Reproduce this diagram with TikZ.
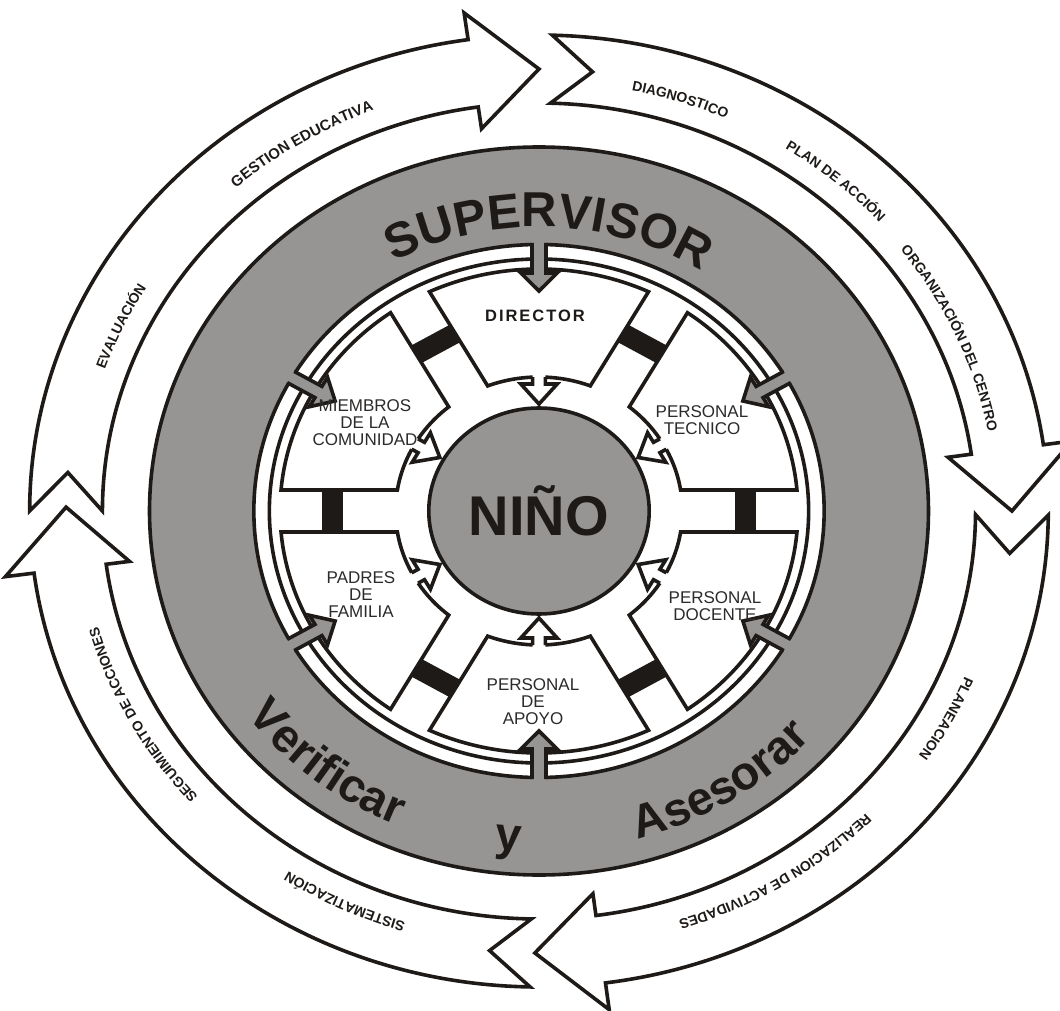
\documentclass[tikz,border=0pt]{standalone}
\usepackage{fontspec}
\setmainfont{Liberation Sans}
\usetikzlibrary{decorations.text}

\definecolor{ink}{RGB}{30,26,24}
\definecolor{ringgray}{RGB}{150,149,148}
\definecolor{labelgray}{RGB}{45,43,42}

\newcommand\bandfont{\bfseries\fontsize{14}{14}\selectfont}
\newcommand\ringfont{\bfseries\fontsize{47}{47}\selectfont}

\tikzset{
  outline/.style={draw=ink, line width=3.6pt},
  bandtext/.style={decorate, decoration={text along path, text align=center, text color=ink, text={|\bandfont|#1}}},
  ringtext/.style={decorate, decoration={text along path, text align=center, text color=ink, text={|\ringfont|#1}}},
  boxlabel/.style={font=\fontsize{17}{17}\selectfont, text=labelgray, align=center},
}

\begin{document}
\begin{tikzpicture}[x=1pt, y=1pt]
\useasboundingbox (-539,-499) rectangle (521,511);

\begin{scope}[xscale=1.07]
% outer cycle of four block arrows
\foreach \ta/\na/\pa in {180/175/90, 88.5/83.5/0, -0.5/-5.5/-90.5, -91/-96/-180.5}{
  \pgfmathsetmacro\ha{\pa+8}
  \draw[outline, fill=white] (\ta:476) arc[start angle=\ta, end angle=\ha, radius=476]
    -- (\ha:503) -- (\pa:442) -- (\ha:386) -- (\ha:408)
    arc[start angle=\ha, end angle=\ta, radius=408] -- (\na:442) -- cycle;
}
\path[bandtext={|\bfseries\fontsize{15}{15}\selectfont|GESTION EDUCATIVA}] (146.4:429.5) arc[start angle=146.4, end angle=96.4, radius=429.5];
\path[bandtext={EVALUACIÓN}] (180:429.5) arc[start angle=180, end angle=130, radius=429.5];
\path[bandtext={DIAGNOSTICO}] (97:429.5) arc[start angle=97, end angle=47, radius=429.5];
\path[bandtext={PLAN DE ACCIÓN}] (74.6:429.5) arc[start angle=74.6, end angle=24.6, radius=429.5];
\path[bandtext={ORGANIZACIÓN DEL CENTRO}] (49:427) arc[start angle=49, end angle=-1, radius=427];
\path[bandtext={PLANEACION}] (-3.3:431) arc[start angle=-3.3, end angle=-53.3, radius=431];
\path[bandtext={REALIZACION DE ACTIVIDADES}] (-33.3:429.5) arc[start angle=-33.3, end angle=-83.3, radius=429.5];
\path[bandtext={SISTEMATIZACIÓN}] (-90.2:429.5) arc[start angle=-90.2, end angle=-140.2, radius=429.5];
\path[bandtext={SEGUIMIENTO DE ACCIONES}] (-126.4:428) arc[start angle=-126.4, end angle=-176.4, radius=428];

% supervisor ring
\fill[ringgray, even odd rule] (0,0) circle[radius=364] (0,0) circle[radius=266.5];
\draw[outline] (0,0) circle[radius=364] (0,0) circle[radius=266.5];
\path[ringtext={|\bfseries\fontsize{49}{49}\selectfont|SUPERVISOR}] (140:284) arc[start angle=140, end angle=36, radius=284];
\path[ringtext={Verificar}] (-158.35:341) arc[start angle=-158.35, end angle=-98.35, radius=341];
\path[ringtext={y}] (-110:341) arc[start angle=-110, end angle=-80, radius=341];
\path[ringtext={Asesorar}] (-87.7:341) arc[start angle=-87.7, end angle=-27.7, radius=341];

% inner rim and wheel boxes
\draw[outline] (0,0) circle[radius=252];
\foreach \a in {90,30,-30,-90,-150,150}{
  \begin{scope}[rotate=\a]
    \draw[outline, fill=white] (25.02:242) arc[start angle=25.02, end angle=-25.02, radius=242]
      -- (-20.98:134) arc[start angle=-20.98, end angle=20.98, radius=134] -- cycle;
  \end{scope}
}

% links in the spokes
\foreach \a in {0,60,...,300}
  \fill[ink, rotate=\a] (183,-21) rectangle (203,21);

% child
\draw[outline, fill=ringgray] (0,0) circle[radius=103];

% arrows: supervisor to box, box to child
\foreach \a in {90,30,-30,-90,-150,150}{
  \begin{scope}[rotate=\a]
    \fill[ringgray] (271,6.5) -- (238,6.5) -- (238,17) -- (220,0) -- (238,-17) -- (238,-6.5) -- (271,-6.5) -- cycle;
    \draw[outline] (268,6.5) -- (238,6.5) -- (238,17) -- (220,0) -- (238,-17) -- (238,-6.5) -- (268,-6.5);
    \fill[white] (138,6) -- (127,6) -- (127,17) -- (107,0) -- (127,-17) -- (127,-6) -- (138,-6) -- cycle;
    \draw[outline] (134,6) -- (127,6) -- (127,17) -- (107,0) -- (127,-17) -- (127,-6) -- (134,-6);
  \end{scope}
}
\end{scope}

\node[font=\bfseries\fontsize{56}{56}\selectfont, text=ink, anchor=base] (nino) at (0,-24) {NIÑO};
\node[font=\bfseries\fontsize{16.5}{18}\selectfont\addfontfeature{LetterSpace=12}, text=ink] (director) at (-4,195) {DIRECTOR};
\node[boxlabel] (miembros) at (-174,88) {MIEMBROS\\DE LA\\COMUNIDAD};
\node[boxlabel] (tecnico) at (163,91) {PERSONAL\\TECNICO};
\node[boxlabel] (docente) at (176,-95) {PERSONAL\\DOCENTE};
\node[boxlabel] (apoyo) at (-6,-191) {PERSONAL\\DE\\APOYO};
\node[boxlabel] (padres) at (-178,-84) {PADRES\\DE\\FAMILIA};
\end{tikzpicture}
\end{document}
